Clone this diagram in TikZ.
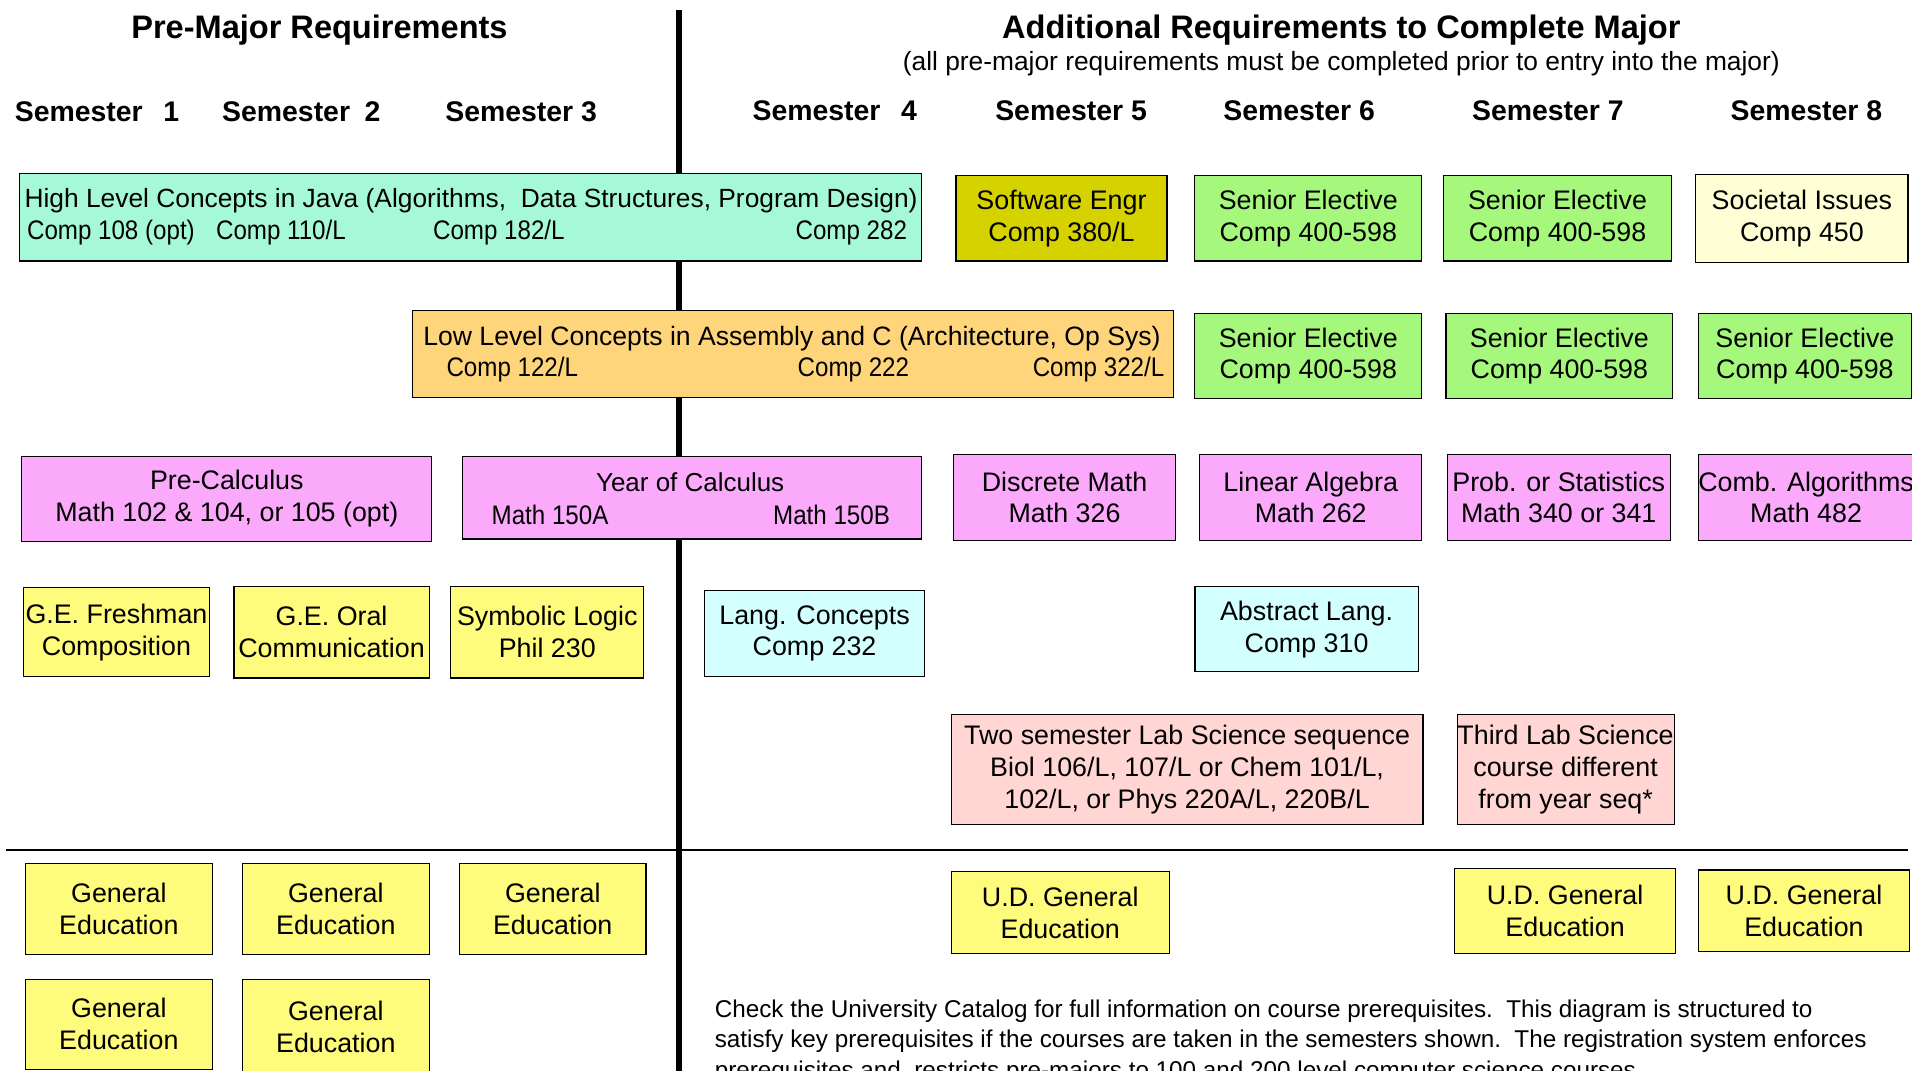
\documentclass[tikz,border=0pt]{standalone}
\usepackage{fontspec}
\setmainfont{Liberation Sans}
\newfontfamily\narrowfont[FakeStretch=0.9]{Liberation Sans}
\usepackage{tikz}
\usetikzlibrary{positioning}

\definecolor{mint}{HTML}{A6F9D8}
\definecolor{olive}{HTML}{D6D200}
\definecolor{leaf}{HTML}{A6F87C}
\definecolor{cream}{HTML}{FFFFD6}
\definecolor{peach}{HTML}{FFD57C}
\definecolor{orchid}{HTML}{FBAAFB}
\definecolor{lemon}{HTML}{FFFB7C}
\definecolor{ice}{HTML}{D4FFFF}
\definecolor{blush}{HTML}{FFD6D4}

\begin{document}
\begin{tikzpicture}[x=1pt, y=-1pt,
        course/.style={draw, rectangle, line width=0.9pt, inner sep=0pt, align=center, font=\fontsize{22}{26}\selectfont},
        sz/.style 2 args={minimum width=#1pt, minimum height=#2pt},
        sub/.style={inner sep=0pt, text height=16pt, text depth=5pt, font=\narrowfont\fontsize{22}{26}\selectfont},
        head/.style={inner sep=0pt, font=\bfseries\fontsize{26.7}{30}\selectfont},
        sem/.style={anchor=west, inner sep=0pt, font=\bfseries\fontsize{23.3}{26}\selectfont}]
        \clip (0,0) rectangle (1568,878);

        % dividers
        \coordinate(top) at (557,8);
        \coordinate(bot) at (557,880);
        \coordinate(hl) at (5,697);
        \coordinate(hr) at (1565,697);
        \draw[line width=5pt] (top) -- (bot);
        \draw[line width=1.2pt] (hl) -- (hr);

        % headings
        \node[head](pre) at (262,25){Pre-Major Requirements};
        \node[head](add) at (1100,25){Additional Requirements to Complete Major};
        \node[inner sep=0pt, font=\fontsize{21.6}{24}\selectfont](addsub) at (1100,52){(all pre-major requirements must be completed prior to entry into the major)};

        \node[sem](s1) at (12,92){Semester\hspace{17pt}1};
        \node[sem](s2) at (182,92){Semester\hspace{12pt}2};
        \node[sem](s3) at (365,92){Semester 3};
        \node[sem](s4) at (617,91){Semester\hspace{17pt}4};
        \node[sem](s5) at (816,91){Semester 5};
        \node[sem](s6) at (1003,91){Semester 6};
        \node[sem](s7) at (1207,91){Semester 7};
        \node[sem](s8) at (1419,91){Semester 8};

        % row 1
        \node[course, fill=mint, sz={740}{72}](java) at (386,178){};
        \node[sub, anchor=west, font=\fontsize{21.6}{26}\selectfont](javat) at (20,164.5){High Level Concepts in Java (Algorithms,\ \ Data Structures, Program Design)};
        \node[sub, anchor=west](c108) at (22,190.5){Comp 108 (opt)};
        \node[sub, anchor=west](c110) at (177,190.5){Comp 110/L};
        \node[sub, anchor=west](c182) at (355,190.5){Comp 182/L};
        \node[sub, anchor=east](c282) at (744,190.5){Comp 282};
        \node[course, fill=olive, sz={173}{70}](swe) at (870.5,179){Software Engr\\Comp 380/L};
        \node[course, fill=leaf, sz={186}{70}, right = 22pt of swe](se1){Senior Elective\\Comp 400-598};
        \node[course, fill=leaf, sz={187}{70}, right = 17pt of se1](se2){Senior Elective\\Comp 400-598};
        \node[course, fill=cream, sz={174}{72}, right = 19pt of se2](soc){Societal Issues\\Comp 450};

        % row 2
        \node[course, fill=peach, sz={624}{71}](low) at (650,290.5){};
        \node[sub, anchor=west, font=\fontsize{21.8}{26}\selectfont](lowt) at (347,277.5){Low Level Concepts in Assembly and C (Architecture, Op Sys)};
        \node[sub, anchor=west](c122) at (366,303.5){Comp 122/L};
        \node[sub, anchor=west](c222) at (654,303.5){Comp 222};
        \node[sub, anchor=east](c322) at (955,303.5){Comp 322/L};
        \node[course, fill=leaf, sz={186}{70}, below = 42pt of se1](se3){Senior Elective\\Comp 400-598};
        \node[course, fill=leaf, sz={186}{70}, right = 19pt of se3](se4){Senior Elective\\Comp 400-598};
        \node[course, fill=leaf, sz={175}{70}, right = 20pt of se4](se5){Senior Elective\\Comp 400-598};

        % row 3
        \node[course, fill=orchid, sz={336}{70}](precalc) at (186,409){Pre-Calculus\\Math 102 \& 104, or 105 (opt)};
        \node[course, fill=orchid, sz={377}{68}](calc) at (567.5,408){};
        \node[sub, font=\fontsize{21.3}{26}\selectfont](calct) at (566,397.5){Year of Calculus};
        \node[sub, anchor=west](m150a) at (403,424.5){Math 150A};
        \node[sub, anchor=east](m150b) at (730,424.5){Math 150B};
        \node[course, fill=orchid, sz={182}{70}](disc) at (873,408){Discrete Math\\Math 326};
        \node[course, fill=orchid, sz={182}{70}, right = 19pt of disc](lin){Linear Algebra\\Math 262};
        \node[course, fill=orchid, sz={183}{70}, right = 20pt of lin](prob){Prob. or Statistics\\Math 340 or 341};
        \node[course, fill=orchid, sz={175}{70}, right = 22pt of prob](comb){Comb. Algorithms\\Math 482};

        % row 4
        \node[course, fill=lemon, sz={153}{73}](gefr) at (95.5,518.5){G.E. Freshman\\Composition};
        \node[course, fill=lemon, sz={160}{75}, right = 19pt of gefr](georal){G.E. Oral\\Communication};
        \node[course, fill=lemon, sz={158}{75}, right = 17pt of georal](logic){Symbolic Logic\\Phil 230};
        \node[course, fill=ice, sz={180}{71}](lang) at (668,519.5){Lang. Concepts\\Comp 232};
        \node[course, fill=ice, sz={183}{70}](abstr) at (1071.5,516){Abstract Lang.\\Comp 310};

        % row 5
        \node[course, fill=blush, sz={387}{90}](lab2) at (973.5,631){Two semester Lab Science sequence\\Biol 106/L, 107/L or Chem 101/L,\\102/L, or Phys 220A/L, 220B/L};
        \node[course, fill=blush, sz={178}{90}, right = 27pt of lab2](lab3){Third Lab Science\\course different\\from year seq*};

        % general education
        \node[course, fill=lemon, sz={153}{75}](ge1) at (97.5,745.5){General\\Education};
        \node[course, fill=lemon, sz={153}{75}, right = 24pt of ge1](ge2){General\\Education};
        \node[course, fill=lemon, sz={153}{75}, right = 24pt of ge2](ge3){General\\Education};
        \node[course, fill=lemon, sz={153}{74}, below = 19pt of ge1](ge4){General\\Education};
        \node[course, fill=lemon, sz={153}{78}, below = 19pt of ge2](ge5){General\\Education};
        \node[course, fill=lemon, sz={179}{67}](ud1) at (869.5,748.5){U.D. General\\Education};
        \node[course, fill=lemon, sz={181}{70}](ud2) at (1283.5,747){U.D. General\\Education};
        \node[course, fill=lemon, sz={173}{67}, right = 18pt of ud2](ud3){U.D. General\\Education};

        \node[anchor=west, inner sep=0pt, align=left, font=\fontsize{19.9}{25}\selectfont](note) at (586,854){Check the University Catalog for full information on course prerequisites.\ \ This diagram is structured to\\satisfy key prerequisites if the courses are taken in the semesters shown.\ \ The registration system enforces\\prerequisites and\ \ restricts pre-majors to 100 and 200 level computer science courses.};

\end{tikzpicture}
\end{document}
